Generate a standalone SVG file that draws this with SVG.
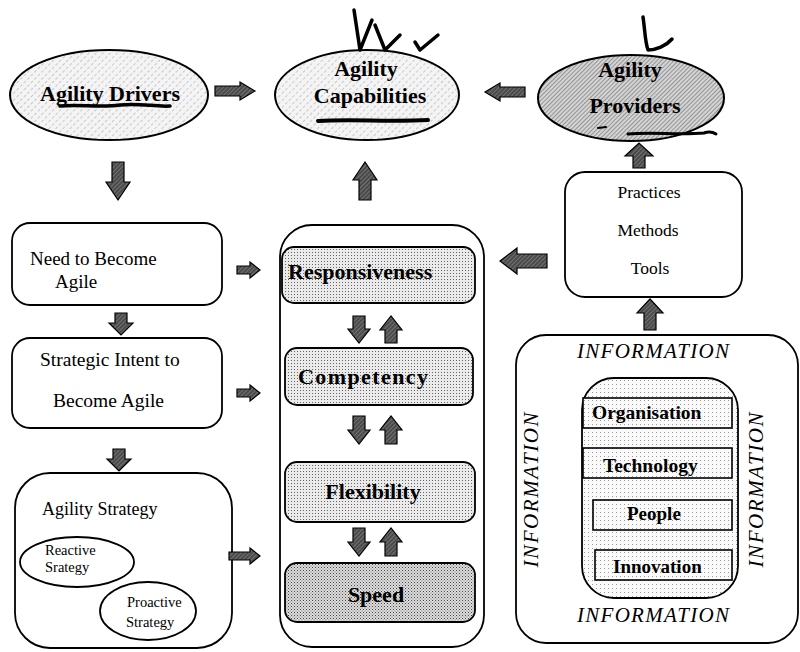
<svg xmlns="http://www.w3.org/2000/svg" width="800" height="652" viewBox="0 0 800 652">
  <defs>
    <!-- light diagonal hatch for the top ellipses -->
    <pattern id="hatchLight" width="5" height="5" patternUnits="userSpaceOnUse" patternTransform="rotate(45)">
      <rect width="5" height="5" fill="#f4f4f4"/>
      <line x1="0" y1="0" x2="0" y2="5" stroke="#8a8a8a" stroke-width="0.8" stroke-dasharray="2 2"/>
    </pattern>
    <!-- dense hatch for Agility Providers -->
    <pattern id="hatchDark" width="3" height="3" patternUnits="userSpaceOnUse" patternTransform="rotate(45)">
      <rect width="3" height="3" fill="#d4d4d4"/>
      <line x1="0" y1="0" x2="0" y2="3" stroke="#555" stroke-width="1"/>
    </pattern>
    <!-- stipple for the capability boxes -->
    <pattern id="dots" width="3" height="3" patternUnits="userSpaceOnUse">
      <rect width="3" height="3" fill="#eaeaea"/>
      <rect x="0" y="0" width="1" height="1" fill="#666"/>
    </pattern>
    <pattern id="dotsDark" width="3" height="3" patternUnits="userSpaceOnUse">
      <rect width="3" height="3" fill="#dcdcdc"/>
      <rect x="0" y="0" width="1" height="1" fill="#444"/>
      <rect x="1.5" y="1.5" width="1" height="1" fill="#777"/>
    </pattern>
    <!-- sparse dots inside the information core -->
    <pattern id="dotsSparse" width="4" height="4" patternUnits="userSpaceOnUse">
      <rect width="4" height="4" fill="#fafafa"/>
      <rect x="0" y="0" width="1" height="1" fill="#999"/>
    </pattern>
    <!-- block-arrow fill -->
    <pattern id="arrowFill" width="3" height="3" patternUnits="userSpaceOnUse" patternTransform="rotate(45)">
      <rect width="3" height="3" fill="#4a4a4a"/>
      <line x1="0" y1="0" x2="0" y2="3" stroke="#b0b0b0" stroke-width="0.8"/>
    </pattern>
    <style>
      .outline { fill: #fff; stroke: #000; stroke-width: 1.8; }
      .ell { stroke: #000; stroke-width: 2; }
      .cap { fill: url(#dots); stroke: #000; stroke-width: 1.8; }
      .arrow { fill: url(#arrowFill); stroke: #000; stroke-width: 1.2; stroke-linejoin: miter; }
      .ink { fill: none; stroke: #000; stroke-linecap: round; stroke-linejoin: round; }
      .bold { font-family: "Liberation Serif", "Times New Roman", serif; font-weight: bold; fill: #000; }
      .reg { font-family: "Liberation Serif", "Times New Roman", serif; fill: #000; }
      .ital { font-family: "Liberation Serif", "Times New Roman", serif; font-style: italic; fill: #000; font-size: 21px; }
    </style>
  </defs>

  <rect width="800" height="652" fill="#fff"/>

  <!-- top row ellipses -->
  <g id="agility-drivers">
    <ellipse class="ell" cx="109" cy="95" rx="99" ry="45" fill="url(#hatchLight)"/>
    <text class="bold" x="110" y="101" font-size="22" text-anchor="middle">Agility Drivers</text>
    <path class="ink" stroke-width="3.5" d="M60,106 C80,104 100,108 120,105 C140,103 155,107 170,106"/>
  </g>

  <g id="agility-capabilities">
    <ellipse class="ell" cx="367" cy="95" rx="92" ry="45" fill="url(#hatchLight)"/>
    <text class="bold" x="366" y="76" font-size="22" text-anchor="middle">Agility</text>
    <text class="bold" x="370" y="103" font-size="22" text-anchor="middle">Capabilities</text>
    <path class="ink" stroke-width="4" d="M318,121 C350,119 390,122 428,120"/>
    <path class="ink" stroke-width="3.5" d="M354,10 L360,50 L372,20"/>
    <path class="ink" stroke-width="3.5" d="M375,25 L385,50 L400,35"/>
    <path class="ink" stroke-width="3.5" d="M415,42 L420,50 L438,35"/>
  </g>

  <g id="agility-providers">
    <ellipse class="ell" cx="631" cy="98" rx="93" ry="43" fill="url(#hatchDark)"/>
    <text class="bold" x="630" y="77" font-size="22" text-anchor="middle">Agility</text>
    <text class="bold" x="635" y="113" font-size="22" text-anchor="middle">Providers</text>
    <path class="ink" stroke-width="3" d="M628,134 C650,132 680,135 704,133 C709,131 713,132 716,134"/>
    <path class="ink" stroke-width="2" d="M598,128 L606,127"/>
    <path class="ink" stroke-width="3.5" d="M643,17 C645,30 645,42 648,50 C656,50 666,46 672,39"/>
  </g>

  <!-- left column -->
  <g id="need-to-become-agile">
    <rect class="outline" x="12" y="223" width="210" height="82" rx="18"/>
    <text class="reg" x="30" y="265" font-size="19">Need to Become</text>
    <text class="reg" x="55" y="288" font-size="19">Agile</text>
  </g>

  <g id="strategic-intent">
    <rect class="outline" x="12" y="338" width="210" height="90" rx="18"/>
    <text class="reg" x="40" y="366" font-size="19.5">Strategic Intent to</text>
    <text class="reg" x="53" y="407" font-size="19.5">Become Agile</text>
  </g>

  <g id="agility-strategy">
    <rect class="outline" x="15" y="473" width="217" height="175" rx="35"/>
    <text class="reg" x="42" y="515" font-size="18">Agility Strategy</text>
    <g id="reactive-strategy">
      <ellipse class="outline" cx="77" cy="562" rx="57" ry="25"/>
      <text class="reg" x="45" y="555" font-size="14.5">Reactive</text>
      <text class="reg" x="45" y="572" font-size="14.5">Srategy</text>
    </g>
    <g id="proactive-strategy">
      <ellipse class="outline" cx="148" cy="611" rx="48" ry="29"/>
      <text class="reg" x="127" y="607" font-size="14.5">Proactive</text>
      <text class="reg" x="126" y="627" font-size="14.5">Strategy</text>
    </g>
  </g>

  <!-- centre column: capability stack -->
  <g id="capability-stack">
    <rect class="outline" x="280" y="225" width="204" height="422" rx="32"/>
    <g id="responsiveness">
      <rect class="cap" x="282" y="247" width="193" height="56" rx="12"/>
      <text class="bold" x="288" y="279" font-size="22">Responsiveness</text>
    </g>
    <g id="competency">
      <rect class="cap" x="285" y="348" width="188" height="57" rx="12"/>
      <text class="bold" x="363" y="384" font-size="22" text-anchor="middle" textLength="130">Competency</text>
    </g>
    <g id="flexibility">
      <rect class="cap" x="285" y="462" width="190" height="60" rx="12"/>
      <text class="bold" x="373" y="499" font-size="22" text-anchor="middle">Flexibility</text>
    </g>
    <g id="speed">
      <rect class="cap" x="285" y="563" width="190" height="59" rx="12" style="fill:url(#dotsDark)"/>
      <text class="bold" x="376" y="602" font-size="22" text-anchor="middle">Speed</text>
    </g>
  </g>

  <!-- right column -->
  <g id="practices-methods-tools">
    <rect class="outline" x="565" y="172" width="177" height="125" rx="20"/>
    <text class="reg" x="649" y="198" font-size="17.5" text-anchor="middle">Practices</text>
    <text class="reg" x="648" y="236" font-size="17.5" text-anchor="middle">Methods</text>
    <text class="reg" x="650" y="274" font-size="17.5" text-anchor="middle">Tools</text>
  </g>

  <g id="information">
    <rect class="outline" x="516" y="335" width="282" height="308" rx="30"/>
    <text class="ital" x="653" y="358" text-anchor="middle" textLength="152">INFORMATION</text>
    <text class="ital" x="653" y="622" text-anchor="middle" textLength="152">INFORMATION</text>
    <text class="ital" transform="translate(538,490) rotate(-90)" text-anchor="middle" textLength="155">INFORMATION</text>
    <text class="ital" transform="translate(763,490) rotate(-90)" text-anchor="middle" textLength="155">INFORMATION</text>
    <rect x="582" y="378" width="156" height="220" rx="32" fill="url(#dotsSparse)" stroke="#000" stroke-width="1.8"/>
    <g id="organisation">
      <rect x="583" y="398" width="149" height="30" fill="url(#dotsSparse)" stroke="#000" stroke-width="1.6"/>
      <text class="bold" x="592" y="419" font-size="19.5">Organisation</text>
    </g>
    <g id="technology">
      <rect x="583" y="448" width="149" height="30" fill="url(#dotsSparse)" stroke="#000" stroke-width="1.6"/>
      <text class="bold" x="603" y="472" font-size="19.5">Technology</text>
    </g>
    <g id="people">
      <rect x="593" y="500" width="139" height="30" fill="url(#dotsSparse)" stroke="#000" stroke-width="1.6"/>
      <text class="bold" x="627" y="520" font-size="19">People</text>
    </g>
    <g id="innovation">
      <rect x="595" y="550" width="137" height="30" fill="url(#dotsSparse)" stroke="#000" stroke-width="1.6"/>
      <text class="bold" x="613" y="573" font-size="19">Innovation</text>
    </g>
  </g>

  <!-- connectors: block arrows -->
  <g id="connectors">
    <path class="arrow" d="M215,86 H240 V82 L255,91 L240,100 V96 H215 Z"/>
    <path class="arrow" d="M525,87 H500 V83 L485,92 L500,101 V97 H525 Z"/>
    <path class="arrow" d="M112,162 V182 H106 L118,200 L130,182 H124 V162 Z"/>
    <path class="arrow" d="M359,200 V180 H353 L365,162 L377,180 H371 V200 Z"/>
    <path class="arrow" d="M633,168 V156 H625 L639,143 L653,156 H645 V168 Z"/>
    <path class="arrow" d="M644,330 V313 H637 L650,299 L663,313 H656 V330 Z"/>
    <path class="arrow" d="M547,254 H517 V248 L500,261 L517,274 V268 H547 Z"/>
    <path class="arrow" d="M237,266 H250 V262 L260,270 L250,278 V274 H237 Z"/>
    <path class="arrow" d="M237,389 H250 V385 L260,393 L250,401 V397 H237 Z"/>
    <path class="arrow" d="M229,552 H250 V548 L260,556 L250,564 V560 H229 Z"/>
    <path class="arrow" d="M115,313 V323 H109 L121,335 L133,323 H127 V313 Z"/>
    <path class="arrow" d="M113,449 V459 H107 L119,471 L131,459 H125 V449 Z"/>
    <path class="arrow" d="M353,316 V329 H348 L359,343 L370,329 H365 V316 Z"/>
    <path class="arrow" d="M385,343 V330 H380 L391,316 L402,330 H397 V343 Z"/>
    <path class="arrow" d="M353,416 V430 H348 L359,444 L370,430 H365 V416 Z"/>
    <path class="arrow" d="M385,444 V430 H380 L391,416 L402,430 H397 V444 Z"/>
    <path class="arrow" d="M353,528 V542 H348 L359,556 L370,542 H365 V528 Z"/>
    <path class="arrow" d="M385,556 V542 H380 L391,528 L402,542 H397 V556 Z"/>
  </g>
</svg>
